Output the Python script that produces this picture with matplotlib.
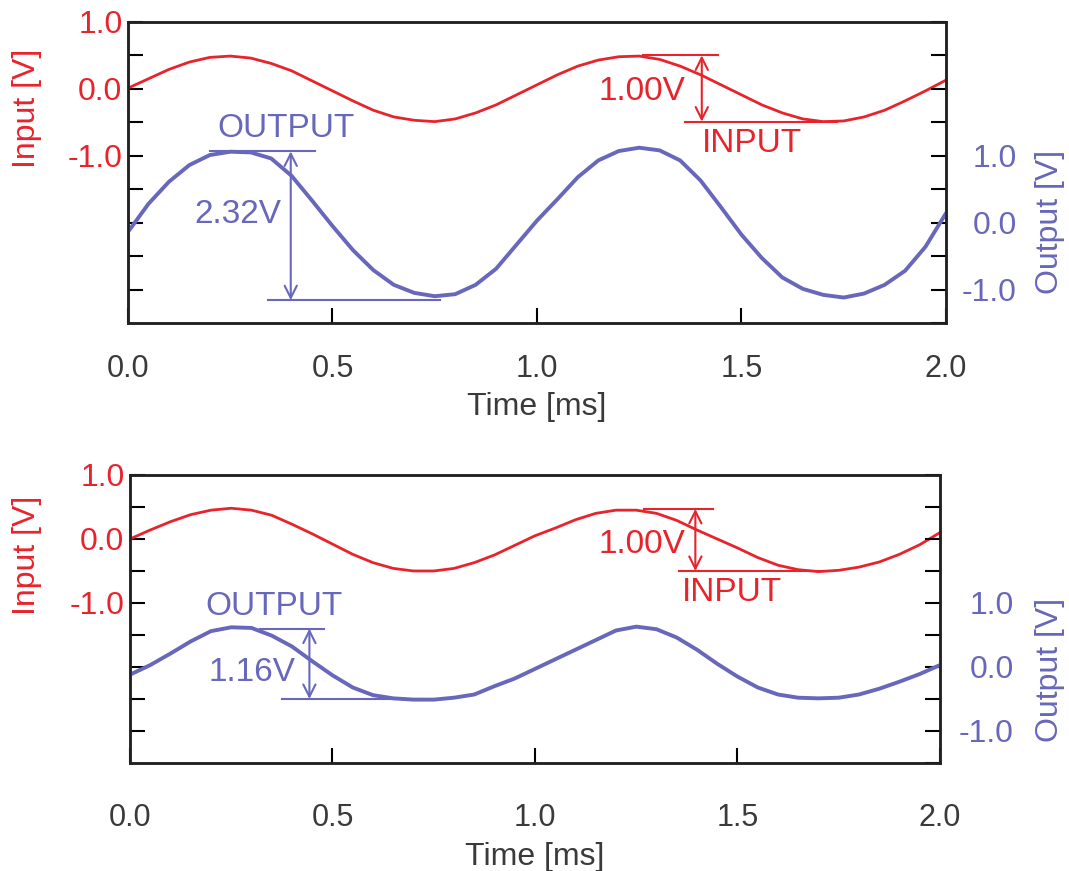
import matplotlib
matplotlib.use("Agg")
import matplotlib.pyplot as plt

plt.rcParams['font.family'] = ['Liberation Sans', 'DejaVu Sans']
plt.rcParams['axes.unicode_minus'] = False

RED = '#e8232c'
BLUE = '#6767bb'
GREY = '#3a3a3a'

# time samples [ms], read every 0.05 ms
time_ms = [0.00, 0.05, 0.10, 0.15, 0.20, 0.25, 0.30, 0.35, 0.40, 0.45,
           0.50, 0.55, 0.60, 0.65, 0.70, 0.75, 0.80, 0.85, 0.90, 0.95,
           1.00, 1.05, 1.10, 1.15, 1.20, 1.25, 1.30, 1.35, 1.40, 1.45,
           1.50, 1.55, 1.60, 1.65, 1.70, 1.75, 1.80, 1.85, 1.90, 1.95, 2.00]

# upper panel
input_top = [0.01, 0.15, 0.29, 0.40, 0.47, 0.49, 0.46, 0.38, 0.27, 0.12,
             -0.03, -0.18, -0.32, -0.42, -0.47, -0.49, -0.45, -0.36, -0.24, -0.09,
             0.06, 0.21, 0.34, 0.43, 0.48, 0.49, 0.44, 0.34, 0.21, 0.06,
             -0.09, -0.24, -0.36, -0.45, -0.49, -0.48, -0.42, -0.32, -0.18, -0.03, 0.13]
output_top = [-0.14, 0.28, 0.61, 0.86, 1.01, 1.06, 1.05, 0.96, 0.70, 0.33,
              -0.05, -0.41, -0.71, -0.93, -1.05, -1.10, -1.07, -0.93, -0.69, -0.33,
              0.03, 0.35, 0.68, 0.93, 1.07, 1.12, 1.08, 0.93, 0.63, 0.23,
              -0.18, -0.53, -0.82, -0.99, -1.08, -1.12, -1.06, -0.93, -0.72, -0.36, 0.14]

# lower panel
input_bot = [0.00, 0.14, 0.27, 0.38, 0.45, 0.48, 0.45, 0.37, 0.23, 0.08,
             -0.08, -0.24, -0.37, -0.46, -0.50, -0.50, -0.46, -0.37, -0.25, -0.10,
             0.05, 0.17, 0.30, 0.40, 0.45, 0.45, 0.40, 0.29, 0.14, 0.00,
             -0.14, -0.29, -0.41, -0.48, -0.51, -0.49, -0.44, -0.36, -0.24, -0.09, 0.10]
output_bot = [-0.12, 0.03, 0.21, 0.40, 0.56, 0.62, 0.61, 0.49, 0.32, 0.09,
              -0.13, -0.32, -0.44, -0.49, -0.51, -0.51, -0.48, -0.43, -0.30, -0.18,
              -0.03, 0.12, 0.27, 0.42, 0.57, 0.63, 0.59, 0.46, 0.27, 0.05,
              -0.15, -0.32, -0.43, -0.48, -0.49, -0.48, -0.43, -0.34, -0.23, -0.11, 0.03]

x_ticks = [0.0, 0.5, 1.0, 1.5, 2.0]
x_labels = ['0.0', '0.5', '1.0', '1.5', '2.0']
in_ticks = [-3.0, -2.5, -2.0, -1.5, -1.0, -0.5, 0.0, 0.5, 1.0]
in_labels = ['', '', '', '', '-1.0', '', '0.0', '', '1.0']
out_ticks = [-1.5, -1.0, -0.5, 0.0, 0.5, 1.0, 1.5, 2.0, 2.5, 3.0]
out_labels = ['', '-1.0', '', '0.0', '', '1.0', '', '', '', '']

# measured levels shown by the markers: (label, high, low)
in_marks = [('1.00V', 0.50, -0.49), ('1.00V', 0.47, -0.50)]
out_marks = [('2.32V', 1.065, -1.16), ('1.16V', 0.60, -0.50)]


def span(ax, hi, lo, hi_x, lo_x, arrow_x, color):
    ax.plot(hi_x, [hi, hi], color=color, lw=1.5)
    ax.plot(lo_x, [lo, lo], color=color, lw=1.5)
    ax.annotate('', xy=(arrow_x, lo), xytext=(arrow_x, hi),
                arrowprops=dict(arrowstyle='<->', color=color, lw=1.5,
                                shrinkA=0, shrinkB=0, mutation_scale=22))


def panel(ax, vin, vout, idx, cfg):
    ax2 = ax.twinx()
    ax.plot(time_ms, vin, color=RED, lw=2.0, solid_joinstyle='round')
    ax2.plot(time_ms, vout, color=BLUE, lw=2.8, solid_joinstyle='round')

    ax.set_xlim(0, 2.0)
    ax.set_ylim(-3.5, 1.0)
    ax2.set_ylim(-1.5, 3.0)

    ax.set_xticks(x_ticks)
    ax.set_xticklabels(x_labels, fontsize=22, color=GREY)
    ax.tick_params(axis='x', direction='in', length=11, width=1.5, pad=cfg['xpad'])
    ax.set_xlabel('Time [ms]', fontsize=23, color=GREY, labelpad=6)

    ax.set_yticks(in_ticks)
    ax.set_yticklabels(in_labels, fontsize=23, color=RED)
    ax.tick_params(axis='y', direction='in', length=11, width=1.5, pad=4)
    ax.set_ylabel('Input [V]', fontsize=23, color=RED)
    ax.yaxis.set_label_coords(cfg['in_lab'][0], cfg['in_lab'][1])

    ax2.set_yticks(out_ticks)
    ax2.set_yticklabels(out_labels, fontsize=23, color=BLUE, ha='right')
    ax2.tick_params(axis='y', direction='in', length=11, width=1.5, pad=cfg['rpad'])
    ax2.set_ylabel('Output [V]', fontsize=23, color=BLUE)
    ax2.yaxis.set_label_coords(cfg['out_lab'][0], cfg['out_lab'][1])

    for a in (ax, ax2):
        for s in a.spines.values():
            s.set_color('#222222')
            s.set_linewidth(1.8)

    txt, hi, lo = in_marks[idx]
    span(ax, hi, lo, cfg['in_hi_x'], cfg['in_lo_x'], cfg['in_arrow'], RED)
    ax.text(*cfg['in_txt'], txt, color=RED, fontsize=24, ha='center', va='center')
    ax.text(*cfg['input_txt'], 'INPUT', color=RED, fontsize=24, ha='center', va='center')

    txt, hi, lo = out_marks[idx]
    span(ax2, hi, lo, cfg['out_hi_x'], cfg['out_lo_x'], cfg['out_arrow'], BLUE)
    ax2.text(*cfg['out_txt'], txt, color=BLUE, fontsize=24, ha='center', va='center')
    ax2.text(*cfg['output_txt'], 'OUTPUT', color=BLUE, fontsize=24, ha='center', va='center')


fig = plt.figure(figsize=(10.69, 8.71), dpi=100)
ax_top = fig.add_axes([0.1197, 0.6292, 0.7652, 0.3456])
ax_bot = fig.add_axes([0.1216, 0.1240, 0.7577, 0.3307])

panel(ax_top, input_top, output_top, 0, dict(
    xpad=22, rpad=51, in_lab=(-0.105, 0.714), out_lab=(1.109, 0.336),
    in_hi_x=[1.26, 1.443], in_lo_x=[1.362, 1.733], in_arrow=1.403,
    in_txt=(1.257, -0.045), input_txt=(1.526, -0.82),
    out_hi_x=[0.20, 0.457], out_lo_x=[0.342, 0.763], out_arrow=0.398,
    out_txt=(0.268, 0.12), output_txt=(0.386, 1.41)))

panel(ax_bot, input_bot, output_bot, 1, dict(
    xpad=29, rpad=53, in_lab=(-0.109, 0.722), out_lab=(1.117, 0.323),
    in_hi_x=[1.27, 1.44], in_lo_x=[1.356, 1.715], in_arrow=1.396,
    in_txt=(1.265, -0.08), input_txt=(1.487, -0.84),
    out_hi_x=[0.322, 0.478], out_lo_x=[0.376, 0.718], out_arrow=0.443,
    out_txt=(0.302, -0.09), output_txt=(0.356, 0.94)))

fig.savefig('out.png', dpi=100, facecolor='white')
